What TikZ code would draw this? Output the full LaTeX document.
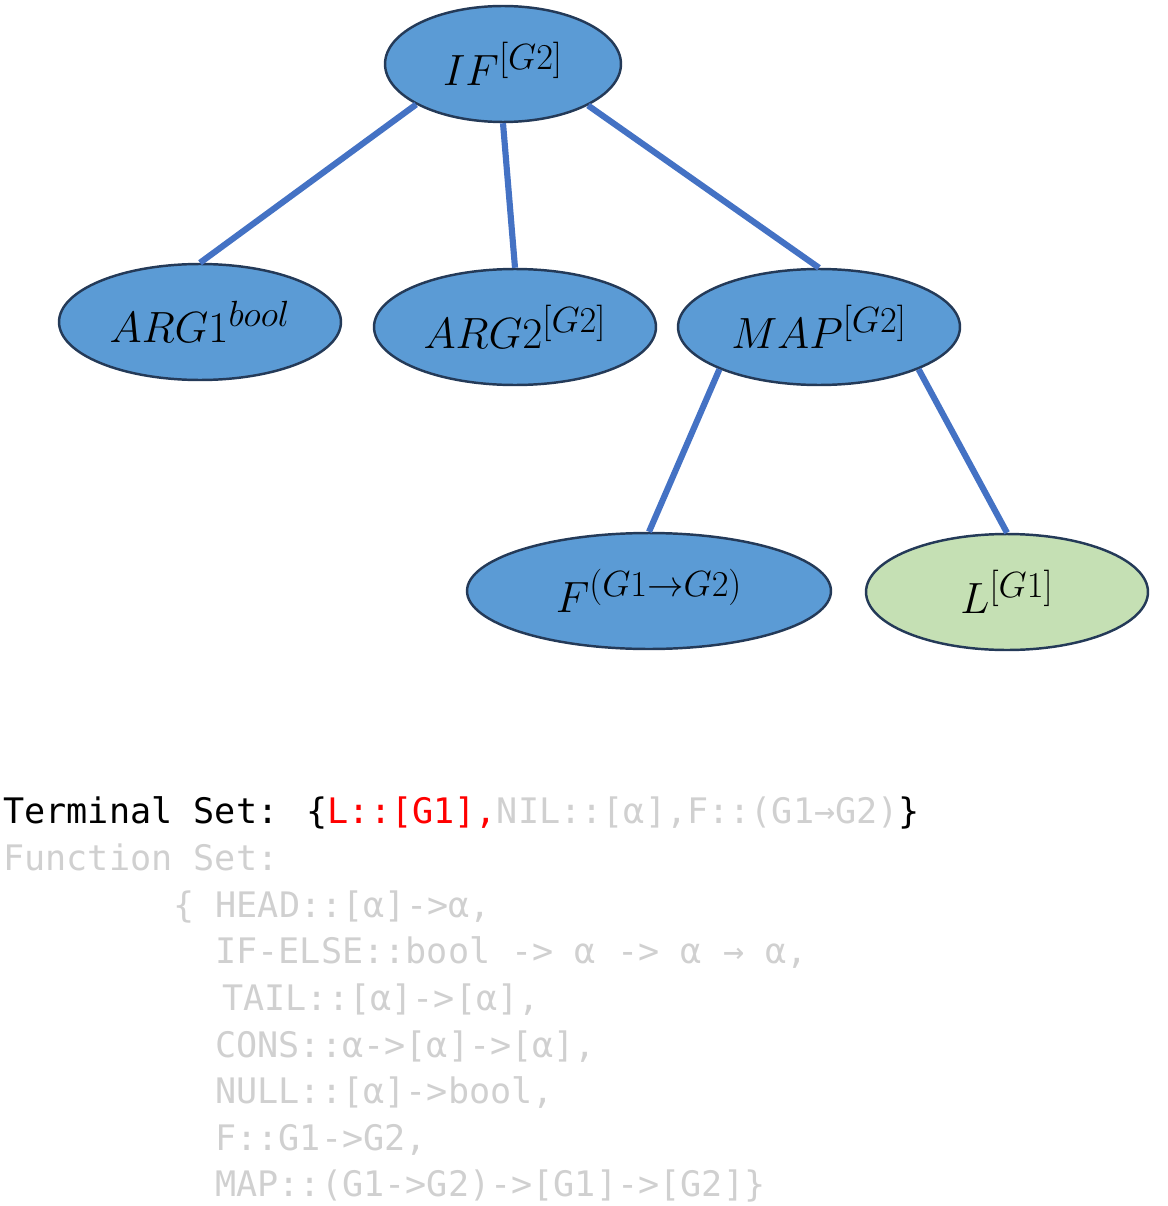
\documentclass[tikz,border=0pt]{standalone}
\usepackage{fontspec}
\newfontfamily\codefont{DejaVu Sans Mono}
\usetikzlibrary{shapes.geometric}
\DeclareMathSizes{29}{29}{21}{15}
\definecolor{nodeblue}{RGB}{91,155,213}
\definecolor{nodegreen}{RGB}{197,224,180}
\definecolor{rim}{RGB}{36,58,88}
\definecolor{edgeblue}{RGB}{68,114,196}
\definecolor{faded}{RGB}{208,208,208}

\begin{document}
\begin{tikzpicture}[x=0.02cm,y=-0.02cm, % one unit is one pixel of the sketch
  tnode/.style={ellipse,draw=rim,line width=1.4pt,fill=nodeblue,inner sep=0pt,
    minimum height=2.32cm,font=\fontsize{29}{34}\selectfont},
  link/.style={edgeblue,line width=3.5pt},
  code/.style={anchor=base west,inner sep=0pt,
    font=\codefont\fontsize{20}{24}\selectfont,text=faded}]

  \useasboundingbox (0,0) rectangle (1167,1206);

  \node[tnode,minimum width=4.72cm](IF) at (503,64) {$IF^{[G2]}$};
  \node[tnode,minimum width=5.64cm](ARG1) at (200,322) {$ARG1^{bool}$};
  \node[tnode,minimum width=5.64cm](ARG2) at (515,327) {$ARG2^{[G2]}$};
  \node[tnode,minimum width=5.64cm](MAP) at (819,327) {$MAP^{[G2]}$};
  \node[tnode,minimum width=7.28cm](F) at (649,591) {$F^{(G1\rightarrow G2)}$};
  \node[tnode,minimum width=5.64cm,fill=nodegreen](L) at (1007,592) {$L^{[G1]}$};

  \draw[link] (IF.205) -- (ARG1.north);
  \draw[link] (IF.south) -- (ARG2.north);
  \draw[link] (IF.334) -- (MAP.north);
  \draw[link] (MAP.203) -- (F.north);
  \draw[link] (MAP.337) -- (L.north);

  \node[code,text=black](term) at (3,823) {Terminal Set: \{\textcolor{red}{L::[G1],}\textcolor{faded}{NIL::[α],F::(G1→G2)}\}};
  \node[code](func) at (3,870) {Function Set:};
  \node[code](head) at (173,917) {\{ HEAD::[α]->α,};
  \node[code](ifelse) at (215,963) {IF-ELSE::bool -> α -> α → α,};
  \node[code](tail) at (222,1010) {TAIL::[α]->[α],};
  \node[code](cons) at (215,1057) {CONS::α->[α]->[α],};
  \node[code](null) at (215,1103) {NULL::[α]->bool,};
  \node[code](fdef) at (215,1150) {F::G1->G2,};
  \node[code](map) at (215,1196) {MAP::(G1->G2)->[G1]->[G2]\}};

\end{tikzpicture}
\end{document}
